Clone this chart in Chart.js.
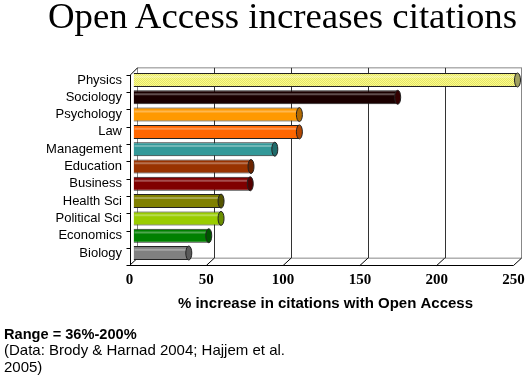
<!DOCTYPE html>
<html lang="en">
<head>
    <meta charset="UTF-8">
    <title>Open Access increases citations</title>
    <script src="https://cdn.jsdelivr.net/npm/chart.js"></script>
    <style>
        body { margin: 0; background: #fff; }
        #wrap { position: relative; width: 531px; height: 382px; overflow: hidden; }
        #chart { position: absolute; left: 0; top: 0; }
        .title {
            position: absolute; left: 48px; top: -2px; white-space: nowrap;
            font: 36.8px "Liberation Serif", serif; line-height: 36px; color: #000;
        }
        .note {
            position: absolute; left: 4px; top: 325.5px; white-space: nowrap;
            font: 15px "Liberation Sans", Arial, sans-serif; line-height: 16.5px; color: #000;
        }
        .note b { font-size: 14.6px; }
    </style>
</head>
<body>
    <div id="wrap">
        <canvas id="chart" width="531" height="382"></canvas>
        <div class="title">Open Access increases citations</div>
        <div class="note"><b>Range = 36%-200%</b><br>(Data: Brody &amp; Harnad 2004; Hajjem et al.<br>2005)</div>
    </div>

    <script>
        const fields = ["Physics", "Sociology", "Psychology", "Law", "Management", "Education",
                        "Business", "Health Sci", "Political Sci", "Economics", "Biology"];
        const increase = [250, 172, 108, 108, 92, 76.5, 76, 57, 57, 49, 36];
        const xTicks = [0, 50, 100, 150, 200, 250];

        const barColors = ["#ffff88", "#1a0000", "#ff9900", "#ff6600", "#339999", "#993300",
                           "#800000", "#808000", "#99cc00", "#008000", "#808080"];
        const capColors = ["#a0a060", "#330000", "#b36b00", "#b34700", "#1f6b6b", "#6b2400",
                           "#550000", "#555500", "#6b8f00", "#005500", "#5a5a5a"];

        // 3D depth offset of the chart box
        const DX = 4, DY = 3.5;

        function dottedYellow() {
            const c = document.createElement("canvas");
            c.width = 2; c.height = 2;
            const g = c.getContext("2d");
            g.fillStyle = "#ffff80";
            g.fillRect(0, 0, 2, 2);
            g.fillStyle = "#e0e070";
            g.fillRect(0, 0, 1, 1);
            g.fillRect(1, 1, 1, 1);
            return g.createPattern(c, "repeat");
        }

        const fills = barColors.slice();
        fills[0] = dottedYellow();

        const boxPlugin = {
            id: "box3d",
            beforeDatasetsDraw(chart) {
                const ctx = chart.ctx;
                const xs = chart.scales.x, ys = chart.scales.y;
                const top = chart.chartArea.top, bottom = chart.chartArea.bottom;
                const x0 = xs.getPixelForValue(0), x1 = xs.getPixelForValue(250);
                ctx.save();
                ctx.lineWidth = 1;
                // back wall
                ctx.strokeStyle = "#888";
                ctx.strokeRect(x0 + DX, top - DY, x1 - x0, bottom - top);
                ctx.strokeStyle = "#333";
                xTicks.forEach(v => {
                    if (v === 0 || v === 250) return;
                    const px = Math.round(xs.getPixelForValue(v) + DX) + 0.5;
                    ctx.beginPath();
                    ctx.moveTo(px, top - DY);
                    ctx.lineTo(px, bottom - DY);
                    ctx.stroke();
                });
                // floor: front edge and diagonal ticks
                ctx.strokeStyle = "#000";
                const fy = Math.round(bottom + DY) + 0.5;
                ctx.beginPath();
                ctx.moveTo(x0 - DX, fy);
                ctx.lineTo(x1 - DX, fy);
                xTicks.forEach(v => {
                    const px = xs.getPixelForValue(v);
                    ctx.moveTo(px - DX, fy);
                    ctx.lineTo(px + DX, bottom - DY);
                });
                // left wall
                const lx = Math.round(x0 - DX) + 0.5;
                ctx.moveTo(lx, fy);
                ctx.lineTo(lx, top + DY);
                ctx.lineTo(x0 + DX, top - DY);
                ctx.stroke();
                // left wall ticks at category borders
                ctx.beginPath();
                for (let i = 0; i <= fields.length; i++) {
                    const yy = Math.round(ys.getPixelForValue(i - 0.5) + DY) + 0.5;
                    ctx.moveTo(lx - 4, yy);
                    ctx.lineTo(lx, yy);
                }
                ctx.stroke();
                ctx.restore();
            },
            afterDatasetsDraw(chart) {
                const ctx = chart.ctx;
                const meta = chart.getDatasetMeta(0);
                ctx.save();
                meta.data.forEach((bar, i) => {
                    const ry = bar.height / 2;
                    // highlight along the top of the cylinder
                    ctx.strokeStyle = "rgba(255,255,255,0.3)";
                    ctx.lineWidth = 2;
                    ctx.beginPath();
                    ctx.moveTo(bar.base + 1, bar.y - ry * 0.45);
                    ctx.lineTo(bar.x - 2, bar.y - ry * 0.45);
                    ctx.stroke();
                    // end cap
                    ctx.lineWidth = 1;
                    ctx.fillStyle = capColors[i];
                    ctx.strokeStyle = "#222";
                    ctx.beginPath();
                    ctx.ellipse(bar.x, bar.y, 3, ry, 0, 0, Math.PI * 2);
                    ctx.fill();
                    ctx.stroke();
                });
                ctx.restore();
            }
        };

        new Chart(document.getElementById("chart"), {
            type: "bar",
            data: {
                labels: fields,
                datasets: [{
                    data: increase,
                    backgroundColor: fills,
                    borderColor: "#222",
                    borderWidth: 1,
                    borderSkipped: "start",
                    barPercentage: 0.81,
                    categoryPercentage: 1
                }]
            },
            options: {
                indexAxis: "y",
                responsive: false,
                devicePixelRatio: 1,
                animation: false,
                layout: { padding: { left: 0, right: 13.5, top: 71.35, bottom: 65.35 } },
                plugins: { legend: { display: false }, tooltip: { enabled: false } },
                scales: {
                    x: {
                        min: 0, max: 250,
                        afterBuildTicks: s => { s.ticks = xTicks.map(v => ({ value: v })); },
                        afterFit: s => { s.height = 55; s.paddingLeft = 0; s.paddingRight = 0; },
                        grid: { display: false, drawTicks: false, tickLength: 0 },
                        border: { display: false },
                        ticks: {
                            padding: 9.5,
                            labelOffset: -DX,
                            color: "#000",
                            maxRotation: 0,
                            font: { family: "Liberation Serif", size: 15, weight: "bold" }
                        },
                        title: {
                            display: true,
                            text: "% increase in citations with Open Access",
                            color: "#000",
                            padding: { top: 0, bottom: 3.65 },
                            font: { family: "Liberation Sans", size: 15, weight: "bold" }
                        }
                    },
                    y: {
                        afterFit: s => { s.width = 133.5; s.paddingTop = 0; s.paddingBottom = 0; },
                        grid: { display: false, drawTicks: false, tickLength: 0 },
                        border: { display: false },
                        ticks: {
                            autoSkip: false,
                            padding: 11.5,
                            color: "#000",
                            font: { family: "Liberation Sans", size: 13 }
                        }
                    }
                }
            },
            plugins: [boxPlugin]
        });
    </script>
</body>
</html>
